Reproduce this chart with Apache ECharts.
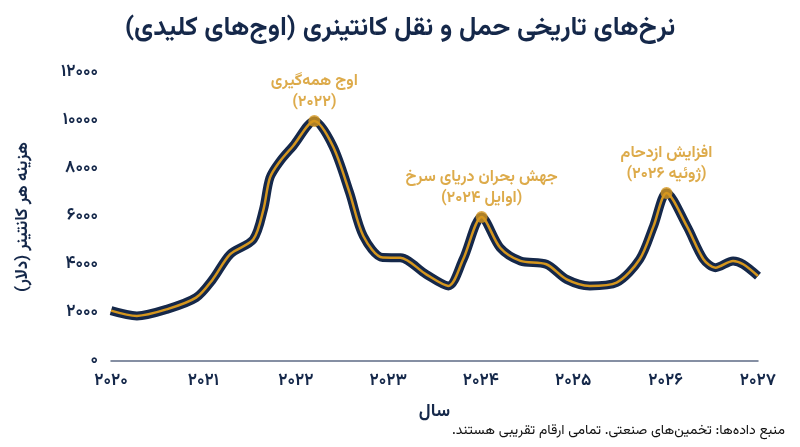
<!DOCTYPE html>
<html dir="rtl" lang="fa">
<head>
<meta charset="utf-8">
<script src="https://cdn.jsdelivr.net/npm/echarts@6/dist/echarts.min.js"></script>
<style>
html,body{margin:0;padding:0;background:#fff;}
#c{width:800px;height:447px;}
</style>
</head>
<body>
<div id="c"></div>
<script>
const years = [2020.0, 2020.28, 2020.6, 2020.92, 2021.1, 2021.29, 2021.54, 2021.65, 2021.72, 2021.83, 2021.97, 2022.2, 2022.4, 2022.58, 2022.73, 2022.94, 2023.13, 2023.41, 2023.65, 2023.81, 2024.01, 2024.21, 2024.43, 2024.71, 2024.93, 2025.18, 2025.47, 2025.72, 2025.87, 2026.01, 2026.23, 2026.41, 2026.54, 2026.73, 2026.84, 2027.0];
const costs = [2100, 1880, 2150, 2640, 3400, 4450, 5070, 6320, 7640, 8330, 8960, 10000, 8960, 7030, 5210, 4310, 4300, 3610, 3130, 4240, 6000, 4720, 4170, 4030, 3400, 3130, 3270, 4240, 5620, 7000, 5620, 4240, 3890, 4170, 4030, 3540];
const peakYears = [2022.2, 2024.01, 2026.01];
const peakCosts = [10000, 6000, 7000];
const peakLabels = ['اوج همه‌گیری\n(۲۰۲۲)', 'جهش بحران دریای سرخ\n(اوایل ۲۰۲۴)', 'افزایش ازدحام\n(ژوئیه ۲۰۲۶)'];
const titleText = 'نرخ‌های تاریخی حمل و نقل کانتینری (اوج‌های کلیدی)';
const yName = 'هزینه هر کانتینر (دلار)';
const xName = 'سال';
const sourceText = 'منبع داده‌ها: تخمین‌های صنعتی. تمامی ارقام تقریبی هستند.';

const NAVY = '#15284a';
const GOLD = '#d4961e';
const FONT = "Vazirmatn, 'Noto Sans Arabic', 'DejaVu Sans', sans-serif";
const fa = n => String(n).replace(/\d/g, d => '۰۱۲۳۴۵۶۷۸۹'[d]);

const lineData = years.map((y, i) => [y, costs[i]]);
const peakData = peakYears.map((y, i) => ({value: [y, peakCosts[i]], label: {formatter: peakLabels[i]}}));

const chart = echarts.init(document.getElementById('c'));
chart.setOption({
  backgroundColor: '#fff',
  animation: false,
  textStyle: {fontFamily: FONT},
  title: [{
    text: titleText, left: 'center', top: 12,
    textStyle: {fontFamily: FONT, fontSize: 26.5, fontWeight: 'bold', color: NAVY}
  }, {
    text: sourceText, right: 10, top: 420,
    textStyle: {fontFamily: FONT, fontSize: 14, fontWeight: 'normal', color: '#111'}
  }],
  grid: {left: 111, right: 42, top: 73, bottom: 86, containLabel: false},
  xAxis: {
    type: 'value', min: 2020, max: 2027, interval: 1,
    name: xName, nameLocation: 'middle', nameGap: 43,
    nameTextStyle: {fontFamily: FONT, fontSize: 18, fontWeight: 'bold', color: NAVY},
    axisLine: {show: true, onZero: false, lineStyle: {color: '#5d6b85', width: 1.5}},
    axisTick: {show: false},
    splitLine: {show: false},
    axisLabel: {formatter: v => fa(v), fontFamily: FONT, fontSize: 17, fontWeight: 'bold', color: NAVY, margin: 13}
  },
  yAxis: {
    type: 'value', min: 0, max: 12000, interval: 2000,
    name: yName, nameLocation: 'middle', nameGap: 78, nameRotate: 90,
    nameTextStyle: {fontFamily: FONT, fontSize: 17, fontWeight: 'bold', color: NAVY},
    axisLine: {show: false}, axisTick: {show: false}, splitLine: {show: false},
    axisLabel: {formatter: v => fa(v), fontFamily: FONT, fontSize: 17, fontWeight: 'bold', color: NAVY, margin: 13}
  },
  series: [{
    type: 'line', data: lineData, smooth: 0.3, showSymbol: false,
    lineStyle: {color: NAVY, width: 9, cap: 'butt', join: 'round'}, z: 2
  }, {
    type: 'line', data: lineData, smooth: 0.3, showSymbol: false,
    lineStyle: {color: GOLD, width: 2.5, join: 'round'}, z: 3
  }, {
    type: 'scatter', data: peakData, symbolSize: 12, z: 4,
    itemStyle: {color: GOLD},
    label: {show: true, position: 'top', distance: 1, align: 'center',
      fontFamily: FONT, fontSize: 16, fontWeight: 'bold', color: GOLD, lineHeight: 21}
  }]
});
</script>
</body>
</html>
